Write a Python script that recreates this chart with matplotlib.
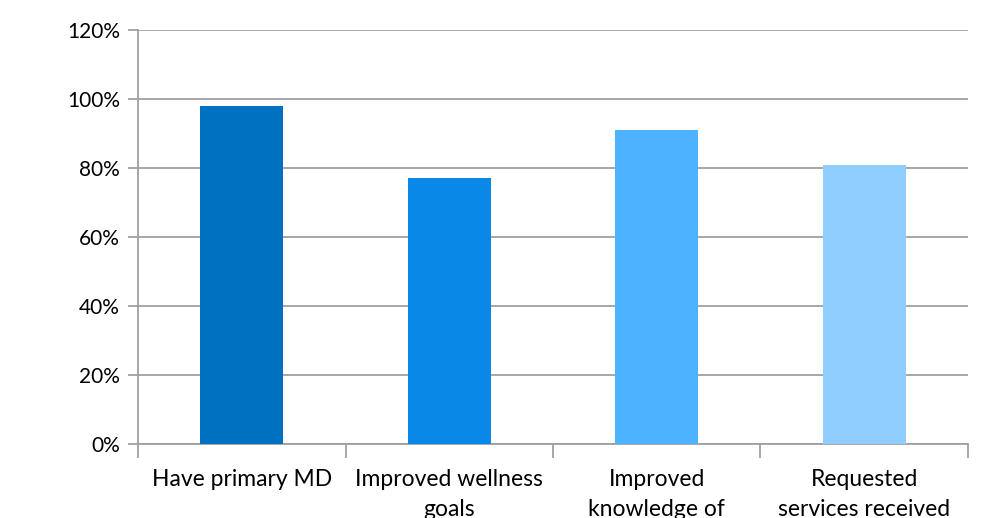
import matplotlib.pyplot as plt
import numpy as np

categories = ["Have primary MD", "Improved wellness\ngoals",
              "Improved\nknowledge of\nresources", "Requested\nservices received"]
values = [98, 77, 91, 81]
colors = ["#0070C0", "#0A88E8", "#4DB2FF", "#8FCEFF"]

plt.rcParams['font.family'] = ['Lato', 'DejaVu Sans']

fig = plt.figure(figsize=(9.85, 5.18), dpi=100)
ax = fig.add_axes([138/985, 1-444/518, (968-138)/985, (444-30)/518])

x = np.arange(len(categories))
ax.bar(x, values, width=0.4, color=colors, zorder=3)

ax.set_ylim(0, 120)
ax.set_xlim(-0.5, len(categories) - 0.5)
ax.set_yticks(np.arange(0, 121, 20))
ax.set_yticklabels([f"{v}%" for v in range(0, 121, 20)], fontsize=15)
ax.yaxis.grid(True, color="#A0A0A0", linewidth=1.3, zorder=0)

ax.set_xticks(np.arange(-0.5, len(categories)), minor=False)
ax.set_xticklabels([])
ax.set_xticks(x, minor=True)
ax.set_xticklabels(categories, minor=True, fontsize=16.5, linespacing=1.5)
ax.tick_params(axis="x", which="major", length=10, color="#A0A0A0", width=1.3)
ax.tick_params(axis="x", which="minor", length=0, pad=18)
ax.tick_params(axis="y", length=7, color="#A0A0A0", width=1.3, pad=6)

for side in ["top", "right"]:
    ax.spines[side].set_visible(False)
for side in ["left", "bottom"]:
    ax.spines[side].set_color("#A0A0A0")
    ax.spines[side].set_linewidth(1.3)

fig.savefig("out.png", dpi=100)
